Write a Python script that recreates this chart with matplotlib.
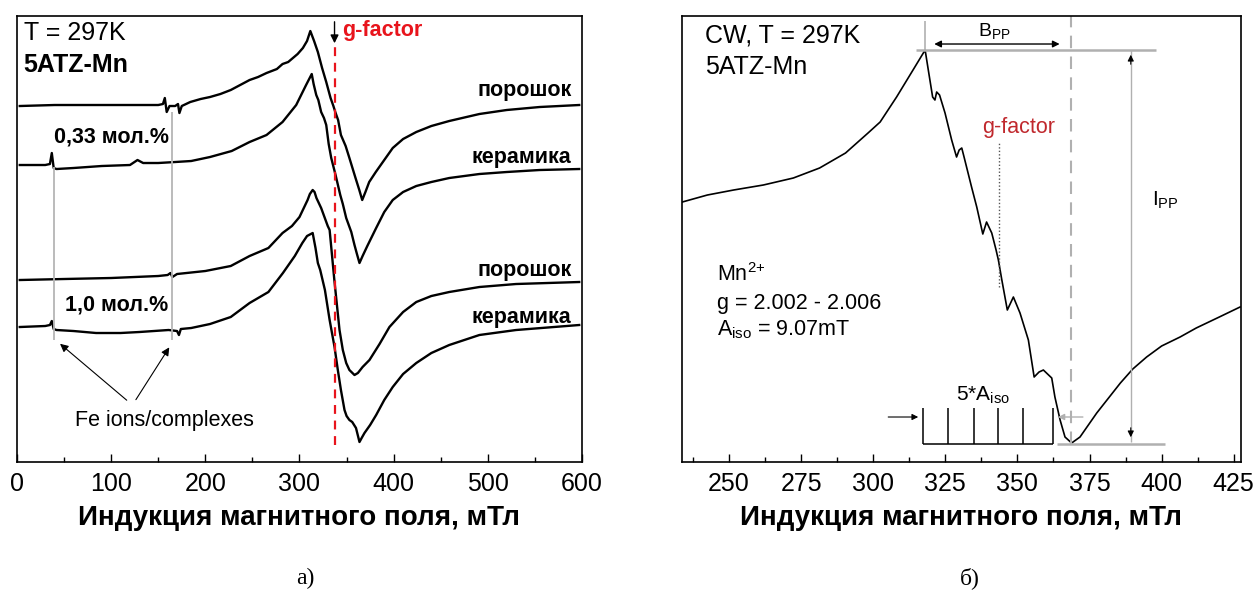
import matplotlib
matplotlib.use("Agg")
import matplotlib.pyplot as plt
from matplotlib.ticker import MultipleLocator

plt.rcParams['font.family'] = ['Liberation Sans', 'DejaVu Sans']
plt.rcParams['mathtext.fontset'] = 'custom'
plt.rcParams['mathtext.rm'] = 'Liberation Sans'
plt.rcParams['mathtext.it'] = 'Liberation Sans:italic'
plt.rcParams['mathtext.bf'] = 'Liberation Sans:bold'

# ---- panel a): four EPR spectra (field, mT / intensity, a.u. incl. offset)
b_pow033 = [3, 40, 90, 130, 150, 155, 157, 159, 162, 168, 171, 172.5, 175, 184, 195, 205,
            216, 227, 237, 247, 256, 265, 276, 282, 288, 293, 298, 303.6, 308, 311.5, 315.5,
            319.5, 324, 328.4, 333, 336, 338, 341, 344, 349, 353, 359.5, 363.5, 366.6, 370,
            374, 381, 390, 399, 410, 424, 440, 459, 491, 520, 555, 597]
i_pow033 = [356, 357, 357, 357, 357, 358, 364, 350, 356, 356, 358, 349, 356, 360, 363, 365,
            368, 372, 377, 382, 385, 389, 393, 398, 400, 404, 408, 414, 421, 431, 421,
            410, 394, 380, 364, 356, 350, 342, 327, 316, 304, 284, 272, 262, 270,
            280, 290, 302, 314, 323, 330, 336, 341, 348, 352, 355, 357]

b_cer033 = [3, 30, 35, 37, 39, 42, 60, 90, 120, 128, 134, 150, 168, 185, 205, 228, 247,
            265, 282, 296.5, 307, 313, 315, 317.8, 320, 323, 326, 328.4, 331, 333.7,
            338.3, 343.3, 346, 349.6, 355, 358.4, 361, 363.7, 367, 372, 381.4, 390, 399,
            410, 424, 440, 459, 491, 520, 555, 597]
i_cer033 = [297, 297, 298, 309, 294, 293, 294, 296, 297, 302, 299, 299, 300, 301, 305, 311, 320,
            327, 340, 357, 377, 388, 378, 367, 362, 350, 344, 337, 318, 304,
            287, 267, 258, 244, 230, 217, 208, 199, 206, 216, 234, 250, 262,
            270, 276, 280, 284, 288, 290, 292, 293]

b_pow10 = [3, 50, 100, 150, 160, 163, 165, 170, 200, 227, 247, 267, 282, 292, 300, 308.6,
           311, 314, 316, 318, 323, 330, 332, 337, 342.5, 346, 349.6, 353, 358.4, 362, 367,
           374.3, 385, 395.5, 410, 424, 440, 459, 491, 530, 597]
i_pow10 = [182, 183, 184, 186, 187, 189, 185, 188, 191, 196, 206, 214, 229, 236, 245, 262,
           268, 272, 270, 264, 254, 236, 232, 182, 132, 112, 99, 92, 87, 89, 95,
           102, 118, 135, 150, 160, 166, 170, 175, 178, 180]

b_cer10 = [3, 30, 35, 37, 39, 42, 60, 84, 110, 130, 161, 170, 172, 174, 185, 205, 227, 247,
           267, 282.4, 295, 303, 308, 314, 317, 319.5, 322, 327, 332, 337.2, 340.7, 344,
           347.8, 350, 353, 356, 360, 363.7, 366, 369, 375, 381.4, 390, 399, 410, 424,
           440, 459, 491, 530, 597]
i_cer10 = [135, 136, 137, 141, 133, 132, 131, 129, 129, 130, 132, 131, 127, 133, 134, 138, 145, 159,
           170, 189, 206, 219, 226, 229, 214, 199, 192, 172, 142, 115, 92, 72,
           52, 46, 42, 40, 34, 20, 24, 29, 37, 47, 62, 75, 88, 99,
           109, 117, 127, 132, 137]

labels_a = ['порошок', 'керамика', 'порошок', 'керамика']
label_y_a = [372, 305, 192, 145]
g_line_a = 337.2
fe_lines = [39.2, 164.4]

# ---- panel б): single spectrum with annotations
b_r = [233.8, 242.5, 251.6, 261.9, 272.3, 281.4, 290.4, 298.2, 302.4, 308.1, 313.8, 318.0,
       319.1, 320.6, 321.4, 322.0, 323.0, 324.9, 327.2, 328.9, 329.8, 330.7, 331.5, 334.1,
       335.9, 338.0, 339.3, 341.1, 342.6, 343.4, 344.6, 346.5, 348.6, 350.9, 353.8, 355.8,
       357.5, 359.0, 361.9, 363.0, 364.8, 366.5, 368.8, 371.7, 377.5, 385.7, 390, 394.8,
       400, 406.4, 412, 420, 427.2]
i_r = [260, 267, 272, 277, 284, 294, 309, 329, 340, 365, 392, 412,
       392, 365, 362, 370, 367, 349, 322, 305, 312, 314, 305, 275,
       255, 228, 240, 229, 212, 202, 182, 152, 165, 149, 122, 85,
       90, 92, 84, 65, 42, 25, 19, 25, 49, 79, 93, 105,
       116, 125, 134, 145, 155]
comb_b = [317.4, 326.0, 335.1, 343.4, 352.1, 362.5]
peak_b, min_b = 318.0, 368.5
peak_i, min_i = 412.5, 18.5

fig = plt.figure(figsize=(12.56, 5.93), dpi=100)
ax1 = fig.add_axes([0.0135, 0.2209, 0.4499, 0.7521])
ax2 = fig.add_axes([0.543, 0.2209, 0.445, 0.7521])

xlabel = 'Индукция магнитного поля, мТл'

for ax in (ax1, ax2):
    ax.set_ylim(0, 446)
    ax.set_yticks([])
    ax.tick_params(axis='x', which='both', direction='in', top=False, labelsize=18, pad=7)
    ax.tick_params(axis='x', which='major', length=6, width=1)
    ax.tick_params(axis='x', which='minor', length=3.5, width=1)
    ax.set_xlabel(xlabel, fontsize=20, fontweight='bold', labelpad=7)
    for s in ax.spines.values():
        s.set_linewidth(1.2)

# panel a
ax1.set_xlim(0, 600)
ax1.xaxis.set_major_locator(MultipleLocator(100))
ax1.xaxis.set_minor_locator(MultipleLocator(50))
for b, i in [(b_pow033, i_pow033), (b_cer033, i_cer033), (b_pow10, i_pow10), (b_cer10, i_cer10)]:
    ax1.plot(b, i, color='black', lw=1.7, solid_joinstyle='round')
for lab, y in zip(labels_a, label_y_a):
    ax1.text(589, y, lab, ha='right', va='center', fontsize=15.5, fontweight='bold')
ax1.text(39, 325, '0,33 мол.%', ha='left', va='center', fontsize=15.5, fontweight='bold')
ax1.text(51, 157, '1,0 мол.%', ha='left', va='center', fontsize=15.5, fontweight='bold')
ax1.text(7, 429, 'T = 297K', ha='left', va='center', fontsize=18)
ax1.text(7, 397, '5ATZ-Mn', ha='left', va='center', fontsize=18, fontweight='bold')
ax1.vlines(fe_lines[0], 122, 295, color='#b5b5b5', lw=1.3)
ax1.vlines(fe_lines[1], 122, 350, color='#b5b5b5', lw=1.3)
ax1.text(61.5, 42, 'Fe ions/complexes', ha='left', va='center', fontsize=15.5)
ax1.annotate('', xy=(43.5, 120), xytext=(118.8, 60),
             arrowprops=dict(arrowstyle='-|>', color='black', lw=0.8, mutation_scale=12))
ax1.annotate('', xy=(163.3, 117), xytext=(124.7, 60),
             arrowprops=dict(arrowstyle='-|>', color='black', lw=0.8, mutation_scale=12))
ax1.vlines(g_line_a, 17, 417, color='#e8141c', lw=1.6, linestyles=(0, (4, 3)))
ax1.annotate('', xy=(g_line_a, 416), xytext=(g_line_a, 443),
             arrowprops=dict(arrowstyle='-|>', color='black', lw=1, mutation_scale=12))
ax1.text(345.5, 432, 'g-factor', ha='left', va='center', fontsize=15.5,
         fontweight='bold', color='#e8141c')

# panel б
ax2.set_xlim(233.7, 427.5)
ax2.xaxis.set_major_locator(MultipleLocator(25))
ax2.xaxis.set_minor_locator(MultipleLocator(12.5))
ax2.plot(b_r, i_r, color='black', lw=1.2, solid_joinstyle='round')
grey = '#b0b0b0'
ax2.vlines(peak_b, peak_i, 441, color=grey, lw=1.2)
ax2.hlines(peak_i, 315, 398, color=grey, lw=1.8)
ax2.annotate('', xy=(320.2, 418), xytext=(365.6, 418),
             arrowprops=dict(arrowstyle='<|-|>', color='black', lw=1, mutation_scale=10))
ax2.text(342, 431, r'B$_{\mathrm{PP}}$', ha='center', va='center', fontsize=14)
ax2.vlines(min_b, min_i, 446, color=grey, lw=1.5, linestyles=(0, (6, 4)))
ax2.vlines(389.3, 20, peak_i, color=grey, lw=1)
ax2.annotate('', xy=(389.3, 410), xytext=(389.3, 395),
             arrowprops=dict(arrowstyle='-|>', color='black', lw=0.8, mutation_scale=9))
ax2.annotate('', xy=(389.3, 22), xytext=(389.3, 37),
             arrowprops=dict(arrowstyle='-|>', color='black', lw=0.8, mutation_scale=9))
ax2.hlines(min_i, 363.7, 401.2, color=grey, lw=1.8)
ax2.text(396.7, 262, r'I$_{\mathrm{PP}}$', ha='left', va='center', fontsize=15)
ax2.text(337.6, 335, 'g-factor', ha='left', va='center', fontsize=15.5, color='#c0282d')
ax2.vlines(343.6, 175, 319, color='#555555', lw=1, linestyles=(0, (1, 1.5)))
ax2.vlines(comb_b, 18, 54, color='black', lw=1.1)
ax2.hlines(18, comb_b[0], comb_b[-1], color='black', lw=1.1)
ax2.annotate('', xy=(315.6, 45), xytext=(305.2, 45),
             arrowprops=dict(arrowstyle='-|>', color='black', lw=0.8, mutation_scale=9,
                             shrinkA=0, shrinkB=0))
ax2.annotate('', xy=(364.1, 45), xytext=(372.7, 45),
             arrowprops=dict(arrowstyle='-|>', color=grey, lw=1, mutation_scale=9,
                             shrinkA=0, shrinkB=0))
ax2.text(338.2, 67, r'5*A$_{\mathrm{iso}}$', ha='center', va='center', fontsize=15)
ax2.text(241.8, 427, 'CW, T = 297K', ha='left', va='center', fontsize=18)
ax2.text(241.8, 395, '5ATZ-Mn', ha='left', va='center', fontsize=18)
ax2.text(245.7, 187, r'Mn$^{2{+}}$', ha='left', va='center', fontsize=15.5)
ax2.text(245.7, 159, 'g = 2.002 - 2.006', ha='left', va='center', fontsize=15.5)
ax2.text(245.7, 132, r'A$_{\mathrm{iso}}$ = 9.07mT', ha='left', va='center', fontsize=15.5)

fig.text(305 / 1256, 1 - 578 / 593, 'а)', ha='center', va='center', fontsize=17,
         family='Liberation Serif')
fig.text(970 / 1256, 1 - 578 / 593, 'б)', ha='center', va='center', fontsize=17,
         family='Liberation Serif')

fig.savefig('out.png', dpi=100)
